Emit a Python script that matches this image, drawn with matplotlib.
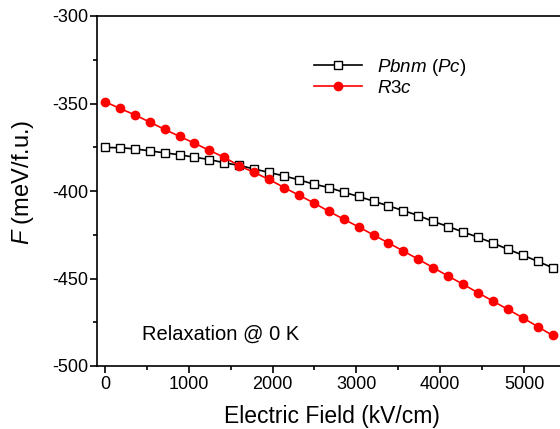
import matplotlib
matplotlib.use("Agg")
import matplotlib.pyplot as plt
from matplotlib.ticker import MultipleLocator

plt.rcParams['font.family'] = ['Liberation Sans', 'DejaVu Sans']
plt.rcParams['mathtext.fontset'] = 'custom'
plt.rcParams['mathtext.rm'] = 'Liberation Sans'
plt.rcParams['mathtext.it'] = 'Liberation Sans:italic'
plt.rcParams['axes.unicode_minus'] = False

field = [0, 178, 356, 534, 712, 890, 1068, 1246, 1424, 1602, 1780,
         1958, 2136, 2314, 2492, 2670, 2848, 3026, 3204, 3382, 3560,
         3738, 3916, 4094, 4272, 4450, 4628, 4806, 4984, 5162, 5340]
pbnm = [-375.1, -375.3, -375.9, -377.1, -378.2, -379.3, -380.7, -382.0,
        -383.9, -385.4, -387.4, -389.4, -391.4, -393.6, -396.1, -398.0,
        -400.7, -403.1, -405.8, -408.5, -411.2, -414.0, -417.4, -420.3,
        -423.4, -426.4, -429.7, -433.3, -436.6, -440.2, -443.8]
r3c = [-349.0, -352.8, -356.5, -360.6, -364.8, -368.8, -372.7, -376.8,
       -380.8, -385.6, -389.4, -393.4, -398.0, -402.4, -406.8, -411.6,
       -416.1, -420.5, -425.1, -429.7, -434.3, -439.0, -443.8, -448.6,
       -453.3, -458.1, -462.9, -467.6, -472.4, -477.5, -482.5]

W, H = 560, 429
fig = plt.figure(figsize=(W/100, H/100), dpi=100)
ax = fig.add_axes([97/W, 1-366/H, (562-97)/W, (366-16)/H])

ax.plot(field, pbnm, color='black', lw=1.2, marker='s', ms=5.2,
        mfc='white', mec='black', mew=1.0,
        label=r'$\mathit{Pbnm}$ ($\mathit{Pc}$)')
ax.plot(field, r3c, color='red', lw=1.2, marker='o', ms=6,
        mfc='red', mec='red', label=r'$\mathit{R3c}$')

ax.set_xlim(-95, 5453)
ax.set_ylim(-500, -300)
ax.xaxis.set_major_locator(MultipleLocator(1000))
ax.xaxis.set_minor_locator(MultipleLocator(500))
ax.yaxis.set_major_locator(MultipleLocator(50))
ax.yaxis.set_minor_locator(MultipleLocator(25))
ax.tick_params(which='major', direction='out', length=4.8, width=1.2,
               labelsize=13)
ax.tick_params(axis='x', which='major', pad=2.5)
ax.tick_params(axis='y', which='major', pad=1.5)
ax.tick_params(which='minor', direction='out', length=2.6, width=1.2)
ax.tick_params(top=False, right=False, which='both')
ax.spines['right'].set_visible(False)
for s in ['left', 'bottom', 'top']:
    ax.spines[s].set_linewidth(1.2)

ax.set_xlabel('Electric Field (kV/cm)', fontsize=16.5, va='baseline')
ax.xaxis.set_label_coords(331.7/W, 1-423.5/H, transform=fig.transFigure)
ax.set_ylabel(r'$\mathit{F}$ (meV/f.u.)', fontsize=17, va='center')
ax.yaxis.set_label_coords(23/W, 1-182.5/H, transform=fig.transFigure)

ax.text(141.7/W, 1-334/H, 'Relaxation @ 0 K', transform=fig.transFigure,
        fontsize=14.5, va='center', ha='left')

leg = ax.legend(loc='upper left', bbox_to_anchor=(314/W, 1-57/H),
                bbox_transform=fig.transFigure, frameon=False, fontsize=13.5,
                borderpad=0, borderaxespad=0, handlelength=2.54,
                handletextpad=0.83, labelspacing=0.1)

fig.savefig('out.png', dpi=100)
